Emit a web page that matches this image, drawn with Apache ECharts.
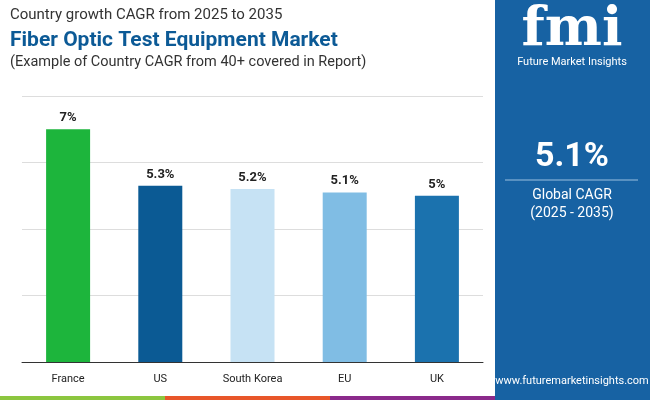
<!DOCTYPE html>
<html><head><meta charset="utf-8">
<script src="https://cdn.jsdelivr.net/npm/echarts@6/dist/echarts.min.js"></script>
<style>html,body{margin:0;padding:0;}#c{width:650px;height:400px;}</style>
</head><body><div id="c"></div>
<script>
var categories = ['France', 'US', 'South Korea', 'EU', 'UK'];
var cagrValues = [7, 5.3, 5.2, 5.1, 5];
var barColors = ['#1db53c', '#0b5a94', '#c6e2f4', '#80bde4', '#1b72ae'];
var globalCagr = '5.1%';

var chart = echarts.init(document.getElementById('c'));
var font = 'Roboto';
var option = {
  textStyle: { fontFamily: font },
  grid: { left: 22, right: 167, top: 96, bottom: 38 },
  xAxis: {
    type: 'category', data: categories,
    axisLine: { lineStyle: { color: '#333', width: 1 } },
    axisTick: { show: false },
    axisLabel: { color: '#222', fontSize: 11, margin: 12 }
  },
  yAxis: {
    type: 'value', min: 0, max: 8, interval: 2,
    axisLabel: { show: false }, axisLine: { show: false }, axisTick: { show: false },
    splitLine: { lineStyle: { color: '#dddddd' } }
  },
  series: [{
    type: 'bar', barWidth: 44,
    data: cagrValues.map(function (v, i) { return { value: v, itemStyle: { color: barColors[i] } }; }),
    label: { show: true, position: 'top', formatter: '{c}%', color: '#222', fontWeight: 'bold', fontSize: 13 }
  }],
  graphic: [
    { type: 'rect', shape: { x: 495, y: 0, width: 155, height: 400 }, style: { fill: '#1762a3' } },
    { type: 'rect', shape: { x: 0, y: 396, width: 165, height: 4 }, style: { fill: '#8cc63f' } },
    { type: 'rect', shape: { x: 165, y: 396, width: 165, height: 4 }, style: { fill: '#e8562a' } },
    { type: 'rect', shape: { x: 330, y: 396, width: 165, height: 4 }, style: { fill: '#8b2a8b' } },
    { type: 'text', left: 10, top: 8, style: { text: 'Country growth CAGR from 2025 to 2035', fill: '#333', fontSize: 15, fontFamily: font } },
    { type: 'text', left: 10, top: 30, style: { text: 'Fiber Optic Test Equipment Market', fill: '#0c5a96', fontSize: 21, fontWeight: 'bold', fontFamily: font } },
    { type: 'text', left: 10, top: 55, style: { text: '(Example of Country CAGR from 40+ covered in Report)', fill: '#333', fontSize: 14.5, fontFamily: font } },
    { type: 'text', x: 572, y: 4, style: { text: 'fmi', fill: '#fff', fontSize: 54, fontWeight: 'bold', fontFamily: 'DejaVu Serif', textAlign: 'center' } },
    { type: 'text', x: 572, y: 57, style: { text: 'Future Market Insights', fill: '#fff', fontSize: 11, fontFamily: font, textAlign: 'center' } },
    { type: 'text', x: 572, y: 140, style: { text: globalCagr, fill: '#fff', fontSize: 34, fontWeight: 'bold', fontFamily: font, textAlign: 'center' } },
    { type: 'line', shape: { x1: 505, y1: 180, x2: 638, y2: 180 }, style: { stroke: '#9cc0e0', lineWidth: 1 } },
    { type: 'text', x: 572, y: 188, style: { text: 'Global CAGR', fill: '#fff', fontSize: 14, fontFamily: font, textAlign: 'center' } },
    { type: 'text', x: 572, y: 206, style: { text: '(2025 - 2035)', fill: '#fff', fontSize: 14, fontFamily: font, textAlign: 'center' } },
    { type: 'text', x: 572, y: 376, style: { text: 'www.futuremarketinsights.com', fill: '#fff', fontSize: 11, fontFamily: font, textAlign: 'center' } }
  ]
};
chart.setOption(option);
window.addEventListener('resize', function () { chart.resize(); });
</script></body></html>
